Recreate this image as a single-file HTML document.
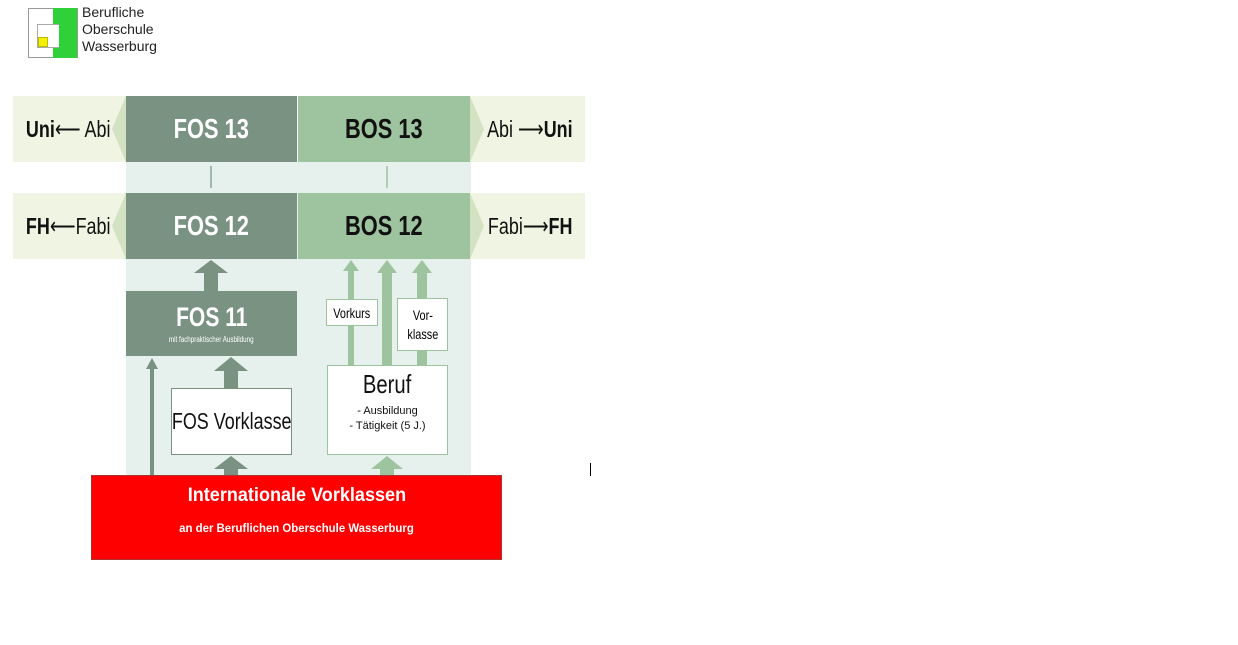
<!DOCTYPE html>
<html><head><meta charset="utf-8"><style>
body{margin:0;width:1238px;height:645px;background:#fff;position:relative;overflow:hidden;font-family:"Liberation Sans",sans-serif}
div{position:absolute;box-sizing:border-box}
.c{display:flex;align-items:center;justify-content:center;font-weight:bold;white-space:nowrap}
.n{display:inline-block;transform:scaleX(0.78);white-space:nowrap}
</style></head><body>
<!-- logo -->
<div style="left:28px;top:8px;width:50px;height:50px;border:1px solid #999"></div>
<div style="left:53px;top:8px;width:24px;height:50px;background:#2fd13a"></div>
<div style="left:37px;top:24px;width:22px;height:24px;border:1px solid #aaa;border-right:none;background:#fff"></div>
<div style="left:38px;top:37px;width:10px;height:10px;background:#f4f000;border:1px solid #bb0"></div>
<div style="left:82px;top:4px;font-size:14px;line-height:17px;color:#222">Berufliche<br>Oberschule<br>Wasserburg</div>
<!-- background center -->
<div style="left:126px;top:162px;width:345px;height:313px;background:#e6f0ec"></div>
<!-- bands -->
<div style="left:13px;top:96px;width:113px;height:66px;background:#eff5e2"></div>
<div style="left:470px;top:96px;width:115px;height:66px;background:#eff5e2"></div>
<div style="left:13px;top:193px;width:113px;height:66px;background:#eff5e2"></div>
<div style="left:470px;top:193px;width:115px;height:66px;background:#eff5e2"></div>
<svg style="position:absolute;left:0;top:0" width="600" height="480">
<polygon points="126,96 112,129 126,162" fill="#d3e2c3"/>
<polygon points="126,193 112,226 126,259" fill="#d3e2c3"/>
<polygon points="470,96 484,129 470,162" fill="#d3e2c3"/>
<polygon points="470,193 484,226 470,259" fill="#d3e2c3"/>
<line x1="211" y1="188" x2="211" y2="166" stroke="#8aa596" stroke-width="1.5"/>
<line x1="387" y1="188" x2="387" y2="166" stroke="#9ec49f" stroke-width="1.5"/>
<rect x="204" y="272" width="14" height="19" fill="#7a9281"/><polygon points="194,273 211,260 228,273" fill="#7a9281"/>
<rect x="224" y="370" width="14" height="18" fill="#7a9281"/><polygon points="214,371 231,357 248,371" fill="#7a9281"/>
<rect x="224" y="468" width="14" height="8" fill="#7a9281"/><polygon points="214,469 231,456 248,469" fill="#7a9281"/>
<rect x="150" y="368" width="4" height="108" fill="#7a9281"/><polygon points="146,369 152,358 158,369" fill="#7a9281"/>
<rect x="348" y="270" width="6" height="96" fill="#9ec49f"/><polygon points="343,271 351,260 359,271" fill="#9ec49f"/>
<rect x="382" y="272" width="10" height="94" fill="#9ec49f"/><polygon points="377,273 387,260 397,273" fill="#9ec49f"/>
<rect x="417" y="272" width="10" height="94" fill="#9ec49f"/><polygon points="412,273 422,260 432,273" fill="#9ec49f"/>
<rect x="380" y="468" width="14" height="8" fill="#9ec49f"/><polygon points="371,469 387,456 403,469" fill="#9ec49f"/>
</svg>
<div class="c" style="left:13px;top:96px;width:110px;height:66px;font-size:23px;color:#111"><span class="n">Uni<span style="font-weight:normal">&#x27F5; Abi</span></span></div>
<div class="c" style="left:13px;top:193px;width:110px;height:66px;font-size:23px;color:#111"><span class="n">FH<span style="font-weight:normal">&#x27F5;Fabi</span></span></div>
<div class="c" style="left:475px;top:96px;width:110px;height:66px;font-size:23px;color:#111"><span class="n"><span style="font-weight:normal">Abi &#x27F6;</span>Uni</span></div>
<div class="c" style="left:475px;top:193px;width:110px;height:66px;font-size:23px;color:#111"><span class="n"><span style="font-weight:normal">Fabi&#x27F6;</span>FH</span></div>
<div class="c" style="left:126px;top:96px;width:171px;height:66px;background:#7a9281;color:#fff;font-size:28px"><span class="n">FOS 13</span></div>
<div class="c" style="left:298px;top:96px;width:172px;height:66px;background:#9ec49f;color:#111;font-size:28px"><span class="n">BOS 13</span></div>
<div class="c" style="left:126px;top:193px;width:171px;height:66px;background:#7a9281;color:#fff;font-size:28px"><span class="n">FOS 12</span></div>
<div class="c" style="left:298px;top:193px;width:172px;height:66px;background:#9ec49f;color:#111;font-size:28px"><span class="n">BOS 12</span></div>
<div style="left:126px;top:291px;width:171px;height:65px;background:#7a9281;color:#fff;text-align:center">
<div style="position:static;font-weight:bold;font-size:27px;margin-top:11px"><span class="n">FOS 11</span></div>
<div style="position:static;font-size:8px;margin-top:2px"><span class="n">mit fachpraktischer Ausbildung</span></div></div>
<div class="c" style="left:171px;top:388px;width:121px;height:67px;background:#fff;border:1.5px solid #7a9281;font-weight:normal;font-size:23px;color:#111"><span class="n">FOS Vorklasse</span></div>
<div class="c" style="left:326px;top:299px;width:52px;height:27px;background:#fff;border:1.5px solid #9ec49f;font-weight:normal;font-size:14px"><span class="n">Vorkurs</span></div>
<div class="c" style="left:397px;top:298px;width:51px;height:53px;background:#fff;border:1.5px solid #9ec49f;font-weight:normal;font-size:14px;text-align:center;line-height:19px"><span class="n">Vor-<br>klasse</span></div>
<div style="left:327px;top:365px;width:121px;height:90px;background:#fff;border:1.5px solid #9ec49f;text-align:center;color:#111">
<div style="position:static;font-size:26px;margin-top:3px"><span class="n">Beruf</span></div>
<div style="position:static;font-size:11px;line-height:15px;margin-top:4px">- Ausbildung<br>- Tätigkeit (5 J.)</div></div>
<div style="left:91px;top:475px;width:411px;height:85px;background:#ff0000;border:1px solid #a33;color:#fff;text-align:center;font-weight:bold">
<div style="position:static;font-size:19px;margin-top:9px"><span style="display:inline-block;transform:scaleX(0.95)">Internationale Vorklassen</span></div>
<div style="position:static;font-size:12px;margin-top:14px"><span style="display:inline-block;transform:scaleX(0.95)">an der Beruflichen Oberschule Wasserburg</span></div></div>
<div style="left:590px;top:463px;width:1px;height:13px;background:#000"></div>
</body></html>
